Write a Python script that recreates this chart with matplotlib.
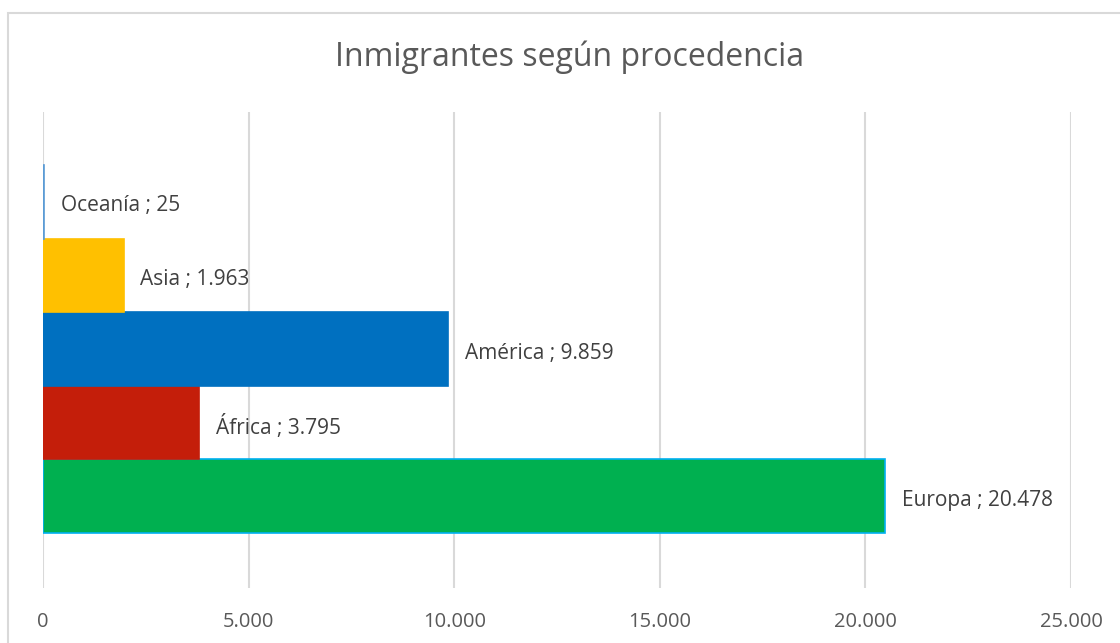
import matplotlib.pyplot as plt
from matplotlib.patches import Rectangle

# Datos
regiones = ['Europa', 'África', 'América', 'Asia', 'Oceanía']
inmigrantes = [20478, 3795, 9859, 1963, 25]
colores = ['#00B050', '#C41E0A', '#0070C0', '#FFC000', '#5B9BD5']
bordes = ['#00B0F0', '#C41E0A', '#0070C0', '#FFC000', '#5B9BD5']
ticks = [0, 5000, 10000, 15000, 20000, 25000]

plt.rcParams['font.family'] = ['Open Sans', 'DejaVu Sans']

W, H = 1120, 643
fig = plt.figure(figsize=(W / 100, H / 100), dpi=100)

# marco del gráfico (se sale por la derecha y por abajo)
fig.patches.append(Rectangle((8 / W, -0.5), 2, 0.5 + (H - 13) / H, transform=fig.transFigure,
                             fill=False, edgecolor='#D9D9D9', linewidth=1.5))

ax = fig.add_axes([43 / W, 1 - 588 / H, (1071 - 43) / W, (588 - 112) / H])

pos = list(range(len(regiones)))
ax.barh(pos, inmigrantes, height=1.0, color=colores, edgecolor=bordes, linewidth=1.2)

def fmt(v):
    return f'{v:,}'.replace(',', '.')

for p, r, v in zip(pos, regiones, inmigrantes):
    ax.annotate(f'{r} ; {fmt(v)}', (v, p), xytext=(12, -3), textcoords='offset points',
                va='center', ha='left', fontsize=15, color='#404040')

ax.set_xlim(0, 25000)
ax.set_ylim(-0.5 - 0.747, 4.5 + 0.72)
ax.set_xticks(ticks)
ax.set_xticklabels([fmt(t) for t in ticks])
ax.set_yticks([])
ax.tick_params(axis='x', length=0, pad=17, labelsize=14.5, labelcolor='#595959')
ax.grid(axis='x', color='#D9D9D9', linewidth=1.5)
ax.set_axisbelow(True)
for s in ax.spines.values():
    s.set_visible(False)

fig.text(570 / W, 1 - 57 / H, 'Inmigrantes según procedencia', ha='center', va='center',
         fontsize=23, color='#595959')

fig.savefig('out.png', dpi=100)
